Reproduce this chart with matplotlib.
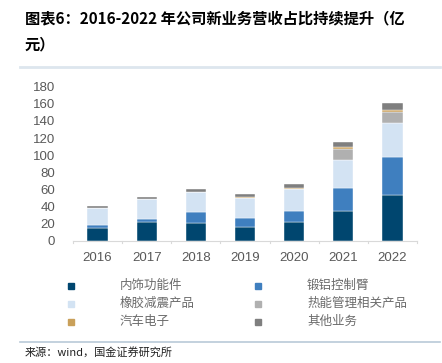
import matplotlib.pyplot as plt
import numpy as np

plt.switch_backend('Agg')
plt.rcParams['font.family'] = ['Noto Sans CJK SC', 'DejaVu Sans']

# Данные (млрд юаней)
years = ['2016', '2017', '2018', '2019', '2020', '2021', '2022']
interior = [15.2, 22.2, 21.0, 16.0, 21.5, 35.0, 53.7]
al_arm = [2.8, 3.5, 12.2, 10.5, 13.5, 26.5, 44.3]
rubber = [20.5, 23.0, 23.7, 23.0, 25.0, 33.1, 39.0]
thermal = [0.0, 0.0, 0.0, 0.0, 0.0, 12.9, 14.0]
auto_elec = [0.0, 0.0, 0.0, 1.2, 1.4, 1.5, 1.7]
other = [2.0, 2.7, 3.5, 3.5, 4.4, 6.3, 7.8]

series = [
    ('内饰功能件', interior, '#00466f'),
    ('锻铝控制臂', al_arm, '#3f7fbf'),
    ('橡胶减震产品', rubber, '#d3e3f3'),
    ('热能管理相关产品', thermal, '#b0b0b0'),
    ('汽车电子', auto_elec, '#c9a05a'),
    ('其他业务', other, '#7f7f7f'),
]

fig = plt.figure(figsize=(4.42, 3.63), dpi=100)
ax = fig.add_axes([73 / 442, 1 - 240.7 / 363, 344 / 442, 154 / 363])

x = np.arange(len(years))
bottom = np.zeros(len(years))
for name, vals, color in series:
    ax.bar(x, vals, width=0.41, bottom=bottom, color=color, label=name,
           edgecolor='white', linewidth=0.3)
    bottom += np.array(vals)

ax.set_xlim(-0.5, len(years) - 0.5)
ax.set_ylim(0, 180)
ax.set_yticks(range(0, 181, 20))
ax.set_xticks(x)
ax.set_xticklabels(years)
ax.tick_params(axis='y', length=0, labelsize=9.5, colors='#595959', pad=13)
ax.tick_params(axis='x', length=0, labelsize=9.5, colors='#595959', pad=8)
for lbl in ax.get_xticklabels() + ax.get_yticklabels():
    lbl.set_family(['Liberation Sans', 'DejaVu Sans'])
for s in ['top', 'right', 'left']:
    ax.spines[s].set_visible(False)
ax.spines['bottom'].set_color('#d9d9d9')
# маленькие засечки между категориями
for xi in np.arange(-0.5, len(years), 1.0):
    ax.plot([xi, xi], [0, -2.5], color='#d9d9d9', lw=0.8, clip_on=False)

# Легенда вручную в две колонки
rows_y = [285.7, 303.5, 321.7]
cols = [(71, 120), (258, 307)]
for i, (name, _, color) in enumerate(series):
    cx, tx = cols[i % 2]
    ry = rows_y[i // 2]
    fig.patches.append(plt.Rectangle(((cx - 3) / 442, 1 - (ry + 3) / 363), 6 / 442, 6 / 363,
                                     transform=fig.transFigure, color=color))
    fig.text(tx / 442, 1 - ry / 363, name, fontsize=9, color='#6b6b6b', va='center')

# Заголовок
fig.text(25 / 442, 1 - 18 / 363, '图表6：2016-2022 年公司新业务营收占比持续提升（亿',
         fontsize=11, fontweight='bold', va='center')
fig.text(25 / 442, 1 - 44 / 363, '元）', fontsize=11, fontweight='bold', va='center')

# Линии-рамки
fig.add_artist(plt.Line2D([20 / 442, 440 / 442], [1 - 67 / 363] * 2, color='#dde6ee', lw=2))
fig.add_artist(plt.Line2D([20 / 442, 440 / 442], [1 - 342 / 363] * 2, color='#b9c9d8', lw=1.2))

fig.text(25 / 442, 1 - 352 / 363, '来源：wind，国金证券研究所', fontsize=8, color='#222222', va='center')

fig.savefig('out.png', dpi=100)
plt.close(fig)
